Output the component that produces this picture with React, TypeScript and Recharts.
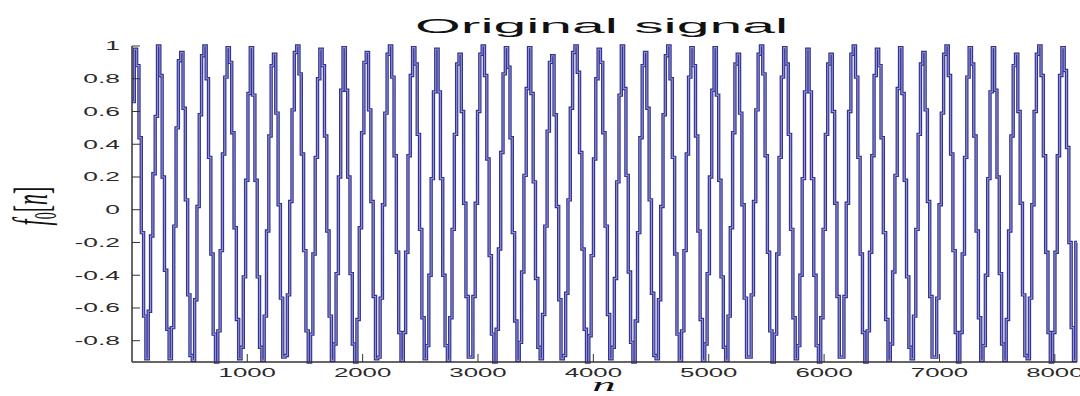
import React from 'react';
import { LineChart, Line, XAxis, YAxis } from 'recharts';

// held sample levels of f0[n]; each level lasts HOLD samples
const HOLD = 20.1;
const N_MAX = 8192;

const startLevel = [0.66];

// one row per cycle, starting at the peak
const cycleLevels = [
  [0.98, 0.88, 0.44, -0.14, -0.65, -0.91, -0.62, -0.16, 0.22, 0.57],
  [1.0, 0.82, 0.2, -0.37, -0.73, -0.91, -0.72, -0.1, 0.5, 0.91],
  [0.96, 0.62, 0.06, -0.52, -0.89, -0.92, -0.55, 0.02, 0.58, 0.94],
  [1.0, 0.8, 0.32, -0.27, -0.76, -0.93, -0.74, -0.25, 0.34, 0.81],
  [0.99, 0.9, 0.47, -0.11, -0.67, -0.91, -0.84, -0.41, 0.18, 0.71],
  [0.99, 0.7, 0.18, -0.41, -0.84, -0.92, -0.65, -0.13, 0.45, 0.88],
  [0.95, 0.59, 0.03, -0.54, -0.9, -0.89, -0.52, 0.05, 0.61, 0.96],
  [1.0, 0.83, 0.34, -0.25, -0.74, -0.93, -0.76, -0.27, 0.32, 0.8],
  [0.98, 0.88, 0.45, -0.13, -0.65, -0.92, -0.82, -0.39, 0.2, 0.73],
  [0.99, 0.73, 0.2, -0.39, -0.82, -0.93, -0.67, -0.11, 0.47, 0.9],
  [0.96, 0.61, 0.05, -0.53, -0.91, -0.9, -0.54, 0.03, 0.59, 0.95],
  [1.0, 0.81, 0.33, -0.26, -0.75, -0.92, -0.75, -0.26, 0.33, 0.82],
  [0.99, 0.89, 0.46, -0.12, -0.66, -0.91, -0.83, -0.4, 0.19, 0.72],
  [0.98, 0.72, 0.19, -0.4, -0.83, -0.92, -0.66, -0.12, 0.46, 0.89],
  [0.95, 0.6, 0.04, -0.53, -0.9, -0.9, -0.53, 0.04, 0.6, 0.95],
  [1.0, 0.82, 0.31, -0.28, -0.76, -0.93, -0.73, -0.24, 0.35, 0.83],
  [0.99, 0.87, 0.44, -0.14, -0.68, -0.92, -0.81, -0.38, 0.21, 0.74],
  [0.99, 0.71, 0.17, -0.42, -0.84, -0.91, -0.64, -0.1, 0.48, 0.9],
  [0.94, 0.58, 0.02, -0.55, -0.91, -0.89, -0.51, 0.06, 0.62, 0.96],
  [1.0, 0.84, 0.35, -0.24, -0.73, -0.93, -0.77, -0.28, 0.31, 0.8],
  [0.98, 0.9, 0.47, -0.1, -0.64, -0.91, -0.84, -0.42, 0.17, 0.7],
  [1.0, 0.74, 0.21, -0.38, -0.81, -0.93, -0.68, -0.14, 0.44, 0.88],
  [0.96, 0.62, 0.06, -0.51, -0.89, -0.91, -0.55, 0.02, 0.58, 0.94],
  [1.0, 0.8, 0.32, -0.27, -0.76, -0.92, -0.74, -0.25, 0.34, 0.81],
  [0.99, 0.88, 0.45, -0.13, -0.67, -0.92, -0.82, -0.39, 0.2, 0.73],
  [0.99, 0.7, 0.18, -0.41, -0.84, -0.92, -0.65, -0.11, 0.47, 0.89],
  [0.95, 0.59, 0.03, -0.54, -0.9, -0.9, -0.52, 0.05, 0.61, 0.95],
  [1.0, 0.83, 0.33, -0.26, -0.74, -0.93, -0.76, -0.27, 0.32, 0.81],
  [0.99, 0.89, 0.46, -0.12, -0.66, -0.91, -0.83, -0.4, 0.19, 0.72],
  [0.98, 0.72, 0.19, -0.4, -0.83, -0.93, -0.66, -0.12, 0.46, 0.89],
  [0.95, 0.6, 0.04, -0.53, -0.9, -0.9, -0.53, 0.04, 0.6, 0.95],
  [1.0, 0.81, 0.32, -0.27, -0.75, -0.93, -0.74, -0.26, 0.33, 0.82],
  [0.98, 0.88, 0.44, -0.14, -0.67, -0.92, -0.82, -0.38, 0.21, 0.74],
  [0.99, 0.71, 0.18, -0.41, -0.84, -0.91, -0.65, -0.12, 0.46, 0.89],
  [0.96, 0.61, 0.05, -0.53, -0.9, -0.9, -0.54, 0.03, 0.59, 0.95],
  [1.0, 0.82, 0.34, -0.25, -0.75, -0.93, -0.75, -0.27, 0.32, 0.81],
  [0.99, 0.89, 0.45, -0.13, -0.66, -0.92, -0.83, -0.4, 0.19, 0.72],
  [0.99, 0.73, 0.2, -0.39, -0.82, -0.92, -0.67, -0.13, 0.45, 0.88],
  [0.95, 0.6, 0.04, -0.52, -0.89, -0.91, -0.54, 0.03, 0.6, 0.95],
  [1.0, 0.82, 0.33, -0.26, -0.75, -0.93, -0.75, -0.26, 0.33, 0.82],
];

const endLevels = [0.99, 0.85, 0.38, -0.2, -0.72, -0.92, -0.2];

const xTicks = [1000, 2000, 3000, 4000, 5000, 6000, 7000, 8000];
const yTicks = [-0.8, -0.6, -0.4, -0.2, 0, 0.2, 0.4, 0.6, 0.8, 1];

const levels = [...startLevel, ...cycleLevels.flat(), ...endLevels];
const data = levels.map((v, i) => ({ n: 1 + i * HOLD, v }));
data.push({ n: N_MAX, v: levels[levels.length - 1] });

const FRAME = '#333';
const TICK_FONT = { fontFamily: '"Liberation Sans", Arial, sans-serif', fontSize: 12, fill: '#2a2a2a' };

const LeftTick = ({ x, y, payload }: any) => (
  <g>
    <line x1={x} x2={x + 8} y1={y} y2={y} stroke={FRAME} />
    <text transform={`translate(${x - 12},${y}) scale(2.2,1)`} textAnchor="end" dy="0.36em" {...TICK_FONT}>
      {String(payload.value)}
    </text>
  </g>
);

const RightTick = ({ x, y }: any) => <line x1={x - 8} x2={x} y1={y} y2={y} stroke={FRAME} />;

const BottomTick = ({ x, y, payload }: any) => (
  <g>
    <line x1={x} x2={x} y1={y} y2={y - 8} stroke={FRAME} />
    <text transform={`translate(${x},${y + 15}) scale(2.15,1)`} textAnchor="middle" {...TICK_FONT}>
      {String(payload.value)}
    </text>
  </g>
);

const TopTick = ({ x, y }: any) => <line x1={x} x2={x} y1={y} y2={y + 8} stroke={FRAME} />;

export default function App() {
  return (
    <div style={{ position: 'relative', width: 1080, height: 396, background: '#fff' }}>
      <style>{'body{margin:0}'}</style>
      <LineChart width={1080} height={396} data={data} margin={{ top: 46, right: 3, bottom: 0, left: 0 }}>
        <XAxis
          dataKey="n"
          type="number"
          domain={[1, N_MAX]}
          ticks={xTicks}
          interval={0}
          height={34}
          tickSize={0}
          tickMargin={0}
          tickLine={false}
          axisLine={{ stroke: FRAME, strokeWidth: 1.5 }}
          tick={<BottomTick />}
        />
        <XAxis
          xAxisId="top"
          orientation="top"
          dataKey="n"
          type="number"
          domain={[1, N_MAX]}
          ticks={xTicks}
          interval={0}
          height={0}
          tickSize={0}
          tickMargin={0}
          tickLine={false}
          axisLine={{ stroke: FRAME, strokeWidth: 1.5 }}
          tick={<TopTick />}
        />
        <YAxis
          type="number"
          domain={[-0.93, 1]}
          ticks={yTicks}
          interval={0}
          width={132}
          tickSize={0}
          tickMargin={0}
          tickLine={false}
          axisLine={{ stroke: FRAME, strokeWidth: 1.5 }}
          tick={<LeftTick />}
        />
        <YAxis
          yAxisId="right"
          orientation="right"
          type="number"
          domain={[-0.93, 1]}
          ticks={yTicks}
          interval={0}
          width={0}
          tickSize={0}
          tickMargin={0}
          tickLine={false}
          axisLine={{ stroke: FRAME, strokeWidth: 1.5 }}
          tick={<RightTick />}
        />
        <Line
          type="stepAfter"
          dataKey="v"
          stroke="#34348f"
          strokeWidth={3.4}
          dot={false}
          isAnimationActive={false}
        />
        <Line
          type="stepAfter"
          dataKey="v"
          stroke="#9292d8"
          strokeWidth={1.1}
          dot={false}
          isAnimationActive={false}
        />
      </LineChart>
      <svg width={1080} height={396} style={{ position: 'absolute', left: 0, top: 0, pointerEvents: 'none' }}>
        <text
          x={415}
          y={33}
          textLength={373}
          lengthAdjust="spacingAndGlyphs"
          fontFamily='"Liberation Sans", Arial, sans-serif'
          fontSize={21}
          fill="#111"
        >
          Original signal
        </text>
        <text
          transform="translate(604,391) scale(2.6,1)"
          textAnchor="middle"
          fontFamily='"Liberation Serif", "Times New Roman", serif'
          fontStyle="italic"
          fontSize={18}
          fill="#111"
        >
          n
        </text>
        <text
          transform="translate(47,206) scale(2.2,1) rotate(-90)"
          textAnchor="middle"
          fontFamily='"Liberation Serif", "Times New Roman", serif'
          fontSize={22}
          fill="#111"
        >
          <tspan fontStyle="italic">f</tspan>
          <tspan fontSize={14} dy={4}>0</tspan>
          <tspan dy={-4}>[</tspan>
          <tspan fontStyle="italic">n</tspan>
          <tspan>]</tspan>
        </text>
      </svg>
    </div>
  );
}
